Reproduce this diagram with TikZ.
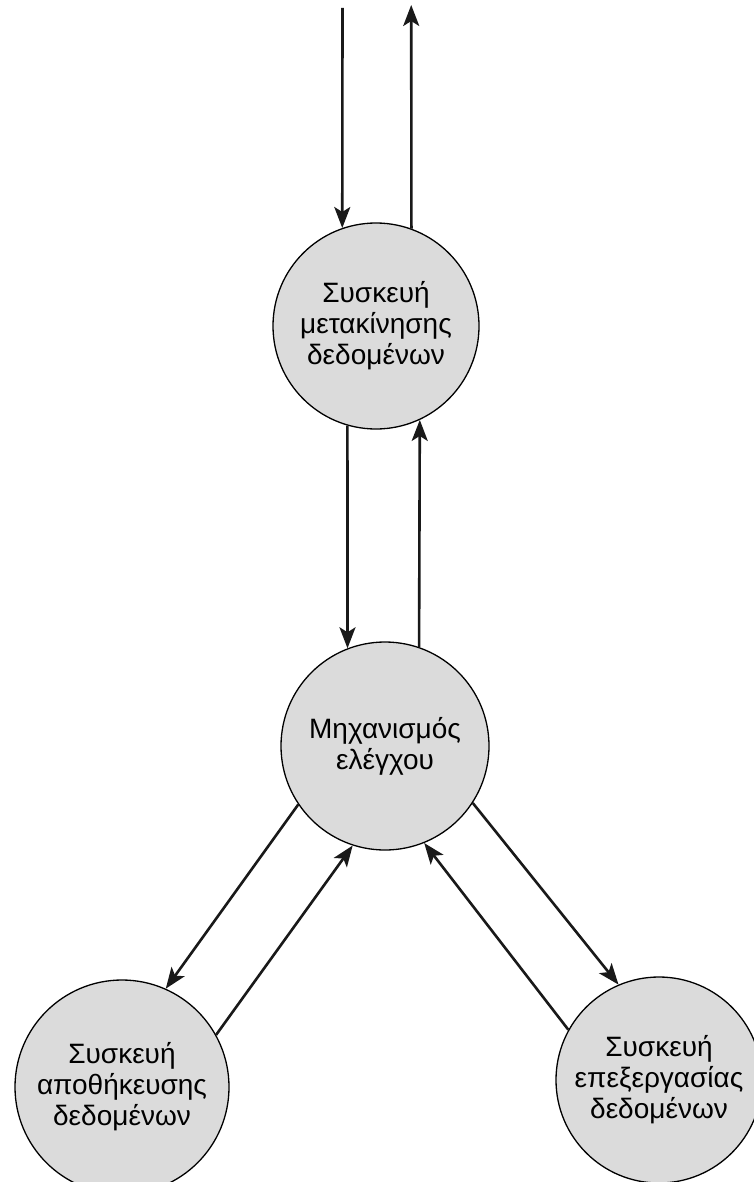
\documentclass[tikz,border=0pt]{standalone}
\usepackage{fontspec}
\setmainfont{Liberation Sans}
\usetikzlibrary{arrows.meta}
\begin{document}
\begin{tikzpicture}[x=1pt,y=-1pt,
  dev/.style={circle, draw=black, line width=1.3pt, fill=black!14, inner sep=0pt,
              align=center, font=\fontsize{28}{31}\selectfont},
  flow/.style={line width=2.6pt, draw=black!90, -{Stealth[length=21pt,width=16pt,inset=5pt]}}]
\useasboundingbox[fill=white] (0,0) rectangle (753,1182);
\node[dev, minimum size=206pt] (T) at (376,326) {Συσκευή\\μετακίνησης\\δεδομένων};
\node[dev, minimum size=208pt] (M) at (385,746) {Μηχανισμός\\ελέγχου};
\node[dev, minimum size=214pt] (L) at (122,1087) {Συσκευή\\αποθήκευσης\\δεδομένων};
\node[dev, minimum size=206pt] (R) at (659,1080) {Συσκευή\\επεξεργασίας\\δεδομένων};
\coordinate (in) at (342.5,8);
\coordinate (out) at (411.2,5);
\draw[flow] (in) -- (T.109);
\draw[flow] (T.70) -- (out);
\draw[flow] (T.-106) -- (M.111);
\draw[flow] (M.71) -- (T.-65);
\draw[flow] (M.214) -- (L.66);
\draw[flow] (L.29) -- (M.-108);
\draw[flow] (M.-33) -- (R.113);
\draw[flow] (R.151) -- (M.-68);
\end{tikzpicture}
\end{document}
